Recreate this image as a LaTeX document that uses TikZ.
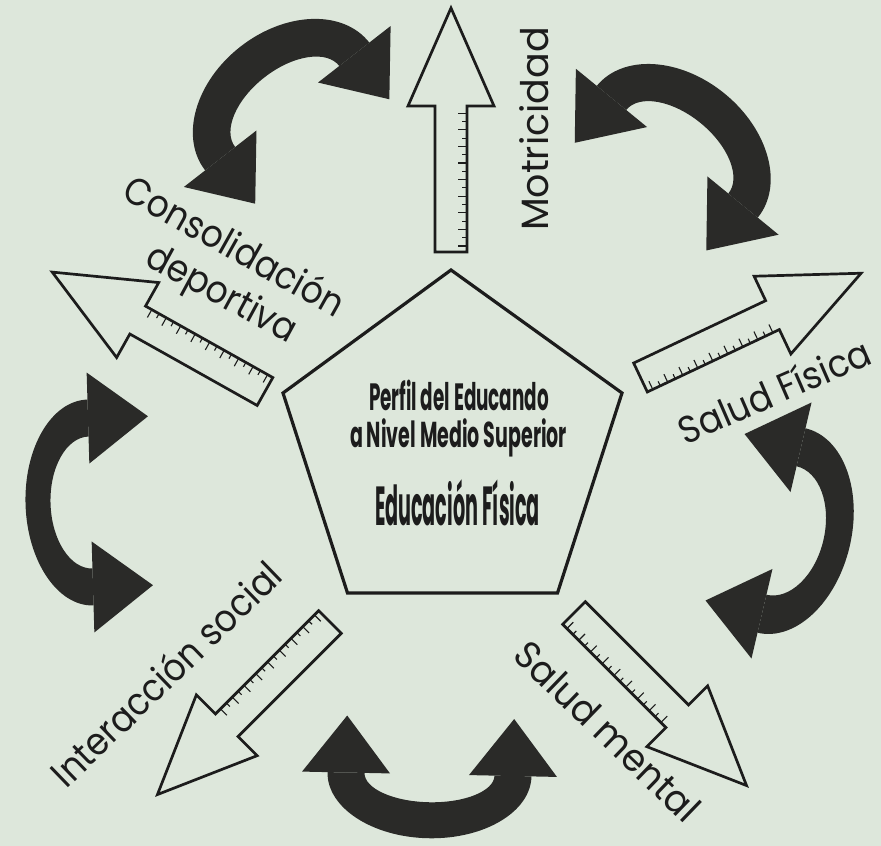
\documentclass[tikz,border=0pt]{standalone}
\usepackage{fontspec}
\setmainfont{Poppins}
\usetikzlibrary{calc}
\definecolor{paper}{RGB}{221,231,219}
\definecolor{ink}{RGB}{28,28,28}
\definecolor{dark}{RGB}{42,42,40}
\tikzset{
  hol/.style={draw=ink, line width=2.7pt, line join=miter, fill=paper},
  tickmark/.style={draw=ink, line width=1.1pt},
  curv/.style={fill=dark},
  lbl/.style={font=\fontsize{38}{38}\selectfont, text=ink, inner sep=0pt, anchor=base},
  ctr/.style={font=\bfseries, text=ink, inner sep=0pt, anchor=base},
  pent/.style={draw=ink, line width=3.2pt, line join=miter},
}
% hollow ruler arrow: tail midpoint (x, screen y), direction angle
\newcommand\hollowarrow[3]{%
 \begin{scope}[shift={(#1,-#2)},rotate=#3]
  \draw[hol] (0,-16) -- (146,-16) -- (146,-43) -- (244,0) -- (146,43) -- (146,16) -- (0,16) -- cycle;
  \foreach \k in {0,...,16}{%
    \pgfmathsetmacro\tx{6+8.3*\k}%
    \pgfmathsetmacro\tl{mod(\k,2)==0 ? 9 : 5}%
    \draw[tickmark] (\tx,-16) -- (\tx,{-16+\tl});
  }
 \end{scope}}
% curved double arrow: centre (x, screen y), axis angle, outer/inner half-length, outer/inner bulge, head width, head length
\newcommand\curvedarrow[9]{%
 \begin{scope}[shift={(#1,-#2)},rotate=#3]
  \pgfmathsetmacro\mm{(#4+#5)/2}
  \fill[curv] (#4,0) arc[start angle=0,end angle=180,x radius=#4,y radius=#6] -- (-#5,0) arc[start angle=180,end angle=0,x radius=#5,y radius=#7] -- cycle;
  \fill[curv] ({\mm-#8/2},0) -- ({\mm+#8/2},0) -- (\mm,-#9) -- cycle;
  \fill[curv] ({-\mm-#8/2},0) -- ({-\mm+#8/2},0) -- (-\mm,-#9) -- cycle;
 \end{scope}}
\newcommand\sqz[2]{\scalebox{#1}[1]{#2}}
\begin{document}
\begin{tikzpicture}[x=1pt,y=1pt]
\useasboundingbox (0,0) rectangle (881,-846);
\fill[paper] (0,0) rectangle (881,-846);
% curved arrows
\curvedarrow{287.25}{106.5}{37.9}{104}{66}{76}{37}{92}{57}
\curvedarrow{677.25}{151.75}{-39.3}{104}{66}{75}{37}{92}{58}
\curvedarrow{781.5}{530.5}{-103.2}{105}{66}{70}{43}{92}{58}
\curvedarrow{429.5}{774.25}{178.8}{102}{65}{64}{28}{88}{57}
\curvedarrow{90.5}{502.5}{91.7}{103}{66}{65}{40}{91}{60}
% ruler arrows
\hollowarrow{451}{252}{90}
\hollowarrow{640.5}{377.5}{25.3}
\hollowarrow{574}{613}{-45}
\hollowarrow{330}{622}{-135}
\hollowarrow{265}{391.5}{150.7}
% pentagon
\coordinate (p1) at (451,-270);
\coordinate (p2) at (622,-393);
\coordinate (p3) at (557.5,-593);
\coordinate (p4) at (347.5,-593);
\coordinate (p5) at (283,-393);
\draw[pent] (p1) -- (p2) -- (p3) -- (p4) -- (p5) -- cycle;
% centre text
\node[ctr] (t1) at (459,-410) {\resizebox{180pt}{\height}{\fontsize{38}{38}\selectfont Perfil del Educando}};
\node[ctr] (t2) at (458.5,-447) {\resizebox{217pt}{\height}{\fontsize{36}{36}\selectfont a Nivel Medio Superior}};
\node[ctr] (t3) at (457.5,-525) {\resizebox{165pt}{\height}{\fontsize{55}{55}\selectfont Educación Física}};
% labels
\node[lbl, rotate=90] (motr) at (548,-129) {Motricidad};
\node[lbl, rotate=23.5] (sfis) at (780,-404) {\sqz{0.92}{Salud Física}};
\node[lbl, rotate=-44] (smen) at (598,-741) {\sqz{0.95}{Salud mental}};
\node[lbl, rotate=44] (isoc) at (176,-684) {\sqz{0.9}{Interacción social}};
\node[lbl, rotate=-29.3] (cons) at (228,-258) {\sqz{0.9}{Consolidación}};
\node[lbl, rotate=-28.5] (depo) at (216,-304) {\sqz{0.9}{deportiva}};
\end{tikzpicture}
\end{document}
